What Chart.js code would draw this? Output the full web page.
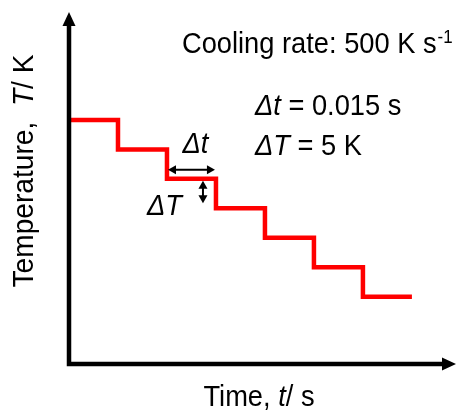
<!DOCTYPE html>
<html>
<head>
<meta charset="utf-8">
<script src="https://cdn.jsdelivr.net/npm/chart.js@4.4.1/dist/chart.umd.min.js"></script>
<style>
  html, body { margin: 0; padding: 0; background: #fff; }
  #chart { display: block; }
</style>
</head>
<body>
<canvas id="chart" width="456" height="414"></canvas>
<script>
// step times in s (dt = 0.015 s) and temperature levels in K (dT = 5 K)
const times = [0, 0.015, 0.030, 0.045, 0.060, 0.075, 0.090, 0.105];
const temps = [1000, 995, 990, 985, 980, 975, 970, 970];
// axis extents (no ticks are shown, axes are just arrows)
const timeRange = [0, 0.1185];
const tempRange = [958.6, 1018.3];

const FONT = '"Liberation Sans", Arial, sans-serif';
const SX = 0.94; // the source text is a bit narrow

function arrowHead(ctx, x, y, angle, len, half) {
    ctx.save();
    ctx.translate(x, y);
    ctx.rotate(angle);
    ctx.beginPath();
    ctx.moveTo(0, 0);
    ctx.lineTo(-len, -half);
    ctx.lineTo(-len, half);
    ctx.closePath();
    ctx.fill();
    ctx.restore();
}

function doubleArrow(ctx, x1, y1, x2, y2) {
    const a = Math.atan2(y2 - y1, x2 - x1);
    const len = 7;
    ctx.beginPath();
    ctx.moveTo(x1 + Math.cos(a) * len, y1 + Math.sin(a) * len);
    ctx.lineTo(x2 - Math.cos(a) * len, y2 - Math.sin(a) * len);
    ctx.stroke();
    arrowHead(ctx, x2, y2, a, 8, 4.5);
    arrowHead(ctx, x1, y1, a + Math.PI, 8, 4.5);
}

// runs: [[text, italic], ...] drawn one after another, squeezed by sx
function runs(ctx, parts, x, y, size, sx, align) {
    let total = 0;
    parts.forEach(p => {
        ctx.font = (p[1] ? 'italic ' : '') + size + 'px ' + FONT;
        total += ctx.measureText(p[0]).width;
    });
    let start = align === 'center' ? -total / 2 : 0;
    ctx.save();
    ctx.translate(x, y);
    ctx.scale(sx, 1);
    ctx.textAlign = 'left';
    parts.forEach(p => {
        ctx.font = (p[1] ? 'italic ' : '') + size + 'px ' + FONT;
        ctx.fillText(p[0], start, 0);
        start += ctx.measureText(p[0]).width;
    });
    ctx.restore();
    return total * sx;
}

const decorations = {
    id: 'decorations',
    afterDatasetsDraw(chart) {
        const ctx = chart.ctx;
        const area = chart.chartArea;
        const xs = chart.scales.x, ys = chart.scales.y;
        ctx.save();
        ctx.fillStyle = '#000';
        ctx.strokeStyle = '#000';
        ctx.textBaseline = 'alphabetic';

        // axes with arrow heads
        ctx.lineWidth = 4.5;
        ctx.lineCap = 'butt';
        ctx.beginPath();
        ctx.moveTo(area.left, area.bottom + 2.25);
        ctx.lineTo(area.left, area.top + 12);
        ctx.moveTo(area.left - 2.25, area.bottom);
        ctx.lineTo(area.right - 12, area.bottom);
        ctx.stroke();
        arrowHead(ctx, area.left, area.top, -Math.PI / 2, 14, 6.5);
        arrowHead(ctx, area.right, area.bottom, 0, 14, 6.5);

        // axis titles
        runs(ctx, [['Time, ', false], ['t', true], ['/ s', false]], 259, 406, 29, SX, 'center');

        ctx.save();
        ctx.translate(33, 171);
        ctx.rotate(-Math.PI / 2);
        runs(ctx, [['Temperature,  ', false], ['T', true], ['/ K', false]], 0, 0, 29, 0.97, 'center');
        ctx.restore();

        // annotation texts
        const hw = runs(ctx, [['Cooling rate: 500 K s', false]], 182, 53, 29, SX);
        runs(ctx, [['-1', false]], 182 + hw + 1, 43, 18, SX);

        runs(ctx, [['\u0394t', true], [' = 0.015 s', false]], 255, 115, 29, SX);
        runs(ctx, [['\u0394T', true], [' = 5 K', false]], 255, 155, 29, SX);

        // step size arrows on the third step
        const xa = xs.getPixelForValue(times[2]);
        const xb = xs.getPixelForValue(times[3]);
        const ya = ys.getPixelForValue(temps[2]);
        const yb = ys.getPixelForValue(temps[3]);
        ctx.lineWidth = 2;
        doubleArrow(ctx, xa + 1, ya - 9, xb - 1, ya - 9);
        doubleArrow(ctx, xb - 13, ya + 2, xb - 13, yb - 5);

        runs(ctx, [['\u0394t', true]], (xa + xb) / 2 + 4, ya - 26, 29, SX, 'center');
        runs(ctx, [['\u0394T', true]], xa - 20, yb + 7, 29, SX);

        ctx.restore();
    }
};

const ctx = document.getElementById('chart').getContext('2d');
new Chart(ctx, {
    type: 'line',
    data: {
        datasets: [{
            data: times.map((t, i) => ({ x: t, y: temps[i] })),
            borderColor: '#ff0000',
            borderWidth: 4.5,
            stepped: true,
            pointRadius: 0,
            fill: false,
            borderCapStyle: 'butt',
            borderJoinStyle: 'miter'
        }]
    },
    options: {
        responsive: false,
        animation: false,
        layout: { padding: { left: 69, right: 0, top: 12, bottom: 50 } },
        plugins: {
            legend: { display: false },
            tooltip: { enabled: false }
        },
        scales: {
            x: { type: 'linear', min: timeRange[0], max: timeRange[1], display: false },
            y: { type: 'linear', min: tempRange[0], max: tempRange[1], display: false }
        }
    },
    plugins: [decorations]
});
</script>
</body>
</html>
